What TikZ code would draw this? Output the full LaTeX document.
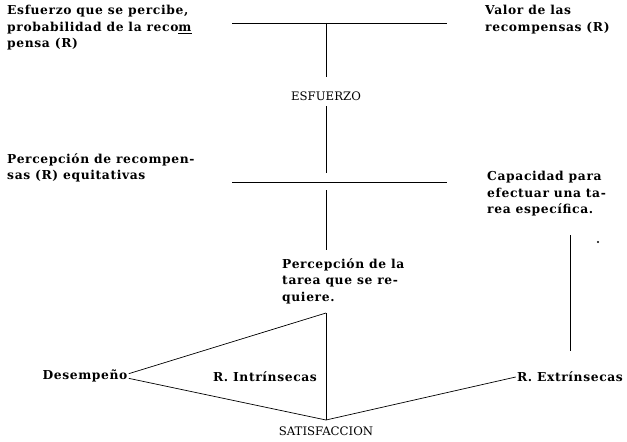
\documentclass[tikz,border=0pt]{standalone}
\usepackage{fontspec}
\setmainfont[LetterSpace=5]{DejaVu Serif}
\usetikzlibrary{positioning,calc}

\begin{document}
\begin{tikzpicture}[x=0.3mm, y=-0.3mm, font=\fontsize{10.5}{14.2}\selectfont\bfseries]

        % --- STYLES ---
        \tikzstyle{note_text} = [inner sep=0pt, align=left, anchor=north west]
        \tikzstyle{key_text} = [inner sep=1pt, align=center]
        \tikzstyle{caps_text} = [inner sep=1pt, font=\fontsize{10}{12}\selectfont\addfontfeature{LetterSpace=0}]
        \tikzstyle{bar} = [draw=black, semithick]
        \tikzstyle{link} = [draw=black, semithick]

        % --- FRAME ---
        \useasboundingbox (0,0) rectangle (627,441);

        % --- DEFINITIONS ---
        \def\cX{326} % central axis

        % --- BARS ---
        \coordinate (top_l) at (232,23);
        \coordinate (top_r) at (447,23);
        \coordinate (mid_l) at (232,182);
        \coordinate (mid_r) at (447,182);
        \draw[bar] (top_l) -- (top_r);
        \draw[bar] (mid_l) -- (mid_r);

        % --- TEXTS ---
        \node[note_text] (prob) at (7,5) {Esfuerzo que se percibe,\\probabilidad de la reco\underline{m}\\pensa (R)};
        \node[note_text] (valor) at (485,5) {Valor de las\\recompensas (R)};
        \node[caps_text] (esfuerzo) at (\cX,96) {ESFUERZO};
        \node[note_text] (equit) at (7,153) {Percepción de recompen-\\sas (R) equitativas};
        \node[note_text] (capac) at (487,171) {Capacidad para\\efectuar una ta-\\rea específica.};
        \node[note_text] (tarea) at (282,258) {Percepción de la\\tarea que se re-\\quiere.};
        \node[key_text] (desemp) at (85,376) {Desempeño};
        \node[key_text] (intr) at (265,377) {R. Intrínsecas};
        \node[key_text] (extr) at (570,377) {R. Extrínsecas};
        \node[caps_text] (satis) at (\cX,431) {SATISFACCION};

        % --- JOINTS ---
        \coordinate (top_c) at (\cX,23);
        \coordinate (esf_a) at (\cX,77);
        \coordinate (esf_b) at (\cX,106);
        \coordinate (mid_a) at (\cX,173);
        \coordinate (mid_b) at (\cX,190);
        \coordinate (tarea_top) at (\cX,250);
        \coordinate (tarea_low) at (\cX,313);
        \coordinate (sat_top) at (\cX,420);
        \coordinate (cap_low) at (570,235);
        \coordinate (ext_top) at (570,351);

        % --- CONNECTIONS ---
        \draw[link] (top_c) -- (esf_a);
        \draw[link] (esf_b) -- (mid_a);
        \draw[link] (mid_b) -- (tarea_top);
        \draw[link] (tarea_low) -- (sat_top);
        \draw[link] ([yshift=2pt]desemp.east) -- (tarea_low);
        \draw[link] ([yshift=-2pt]desemp.east) -- (sat_top);
        \draw[link] (extr.west) -- (sat_top);
        \draw[link] (cap_low) -- (ext_top);

        % stray mark
        \fill (598,242) circle (1.2);

    \end{tikzpicture}
\end{document}
